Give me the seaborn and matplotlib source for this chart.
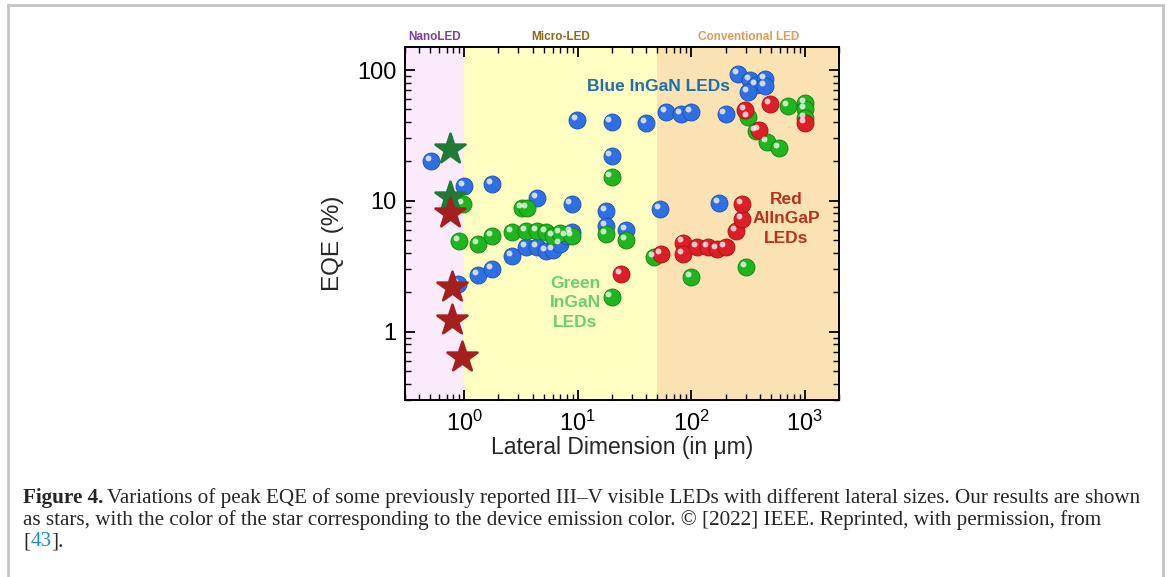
import matplotlib
matplotlib.use("Agg")
import matplotlib.pyplot as plt
import matplotlib.transforms as mtransforms
from matplotlib.lines import Line2D
from matplotlib.ticker import FixedLocator, LogLocator, NullFormatter
import numpy as np
import pandas as pd
import seaborn as sns

# lateral dimension (um) and peak EQE (%)
blue_x = [0.51, 1.0, 1.75, 4.4, 8.8, 17.6, 17.6, 26.4, 52.6, 174,
          0.88, 1.33, 1.77, 2.65, 3.5, 4.4, 5.2, 6.1, 7.0, 7.95, 8.8, 19.8,
          9.9, 19.8, 39.5, 59.4, 80.6, 100, 200, 257, 327, 370, 315, 444, 444]
blue_y = [20, 13, 13.5, 10.5, 9.5, 8.4, 6.4, 6.0, 8.7, 9.7,
          2.3, 2.7, 3.0, 3.8, 4.45, 4.45, 4.15, 4.2, 4.7, 5.4, 5.8, 22,
          41.5, 40, 39.4, 47.8, 46, 47.8, 46, 93, 84, 77, 68, 85, 75.5]

green_x = [0.98, 0.89, 1.33, 1.77, 2.65, 3.2, 3.6, 3.5, 4.4, 5.2, 6.1, 7.0, 8.9,
           17.6, 26.4, 19.8, 19.8, 46.6, 100, 302,
           315, 370, 463, 590, 710, 1000, 1000, 1000]
green_y = [9.5, 4.9, 4.7, 5.4, 5.8, 8.85, 8.85, 5.9, 5.9, 5.8, 5.4, 5.7, 5.4,
           5.6, 5.0, 15.3, 1.85, 3.7, 2.6, 3.13,
           43.8, 34, 28.2, 25.4, 53, 56, 50, 43]

red_x = [23.8, 53.7, 84, 84, 112, 140, 168, 200, 246, 279, 279,
         296, 492, 393, 1000]
red_y = [2.77, 3.94, 4.8, 3.94, 4.45, 4.45, 4.3, 4.45, 5.9, 7.2, 9.5,
         49.5, 55, 34.8, 39.4]

# our results (stars)
star_green_x = [0.75, 0.75]
star_green_y = [25, 10.7]
star_red_x = [0.75, 0.78, 0.78, 0.96]
star_red_y = [8.0, 2.2, 1.23, 0.645]

regions = ["NanoLED", "Micro-LED", "Conventional LED"]
region_edges = [0.3, 1, 50, 2000]
region_fill = ["#fbeafa", "#ffffc2", "#fbe2b2"]
region_text = ["#7a3fa0", "#8b6a1a", "#e39a52"]

caption_lines = [
    "Variations of peak EQE of some previously reported III\u2013V visible LEDs with different lateral sizes. Our results are shown",
    "as stars, with the color of the star corresponding to the device emission color. \u00a9 [2022] IEEE. Reprinted, with permission, from",
]

sns.set_style("ticks")
plt.rcParams['font.family'] = ['Liberation Sans', 'DejaVu Sans']
plt.rcParams['mathtext.fontset'] = 'custom'
plt.rcParams['mathtext.rm'] = 'Liberation Sans'
plt.rcParams['mathtext.it'] = 'Liberation Sans:italic'
plt.rcParams['mathtext.bf'] = 'Liberation Sans:bold'

fig = plt.figure(figsize=(11.67, 5.77), dpi=100)
ax = fig.add_axes([0.347, 0.3068, 0.372, 0.6117])

# background bands
for i in range(3):
    ax.axvspan(region_edges[i], region_edges[i + 1], color=region_fill[i], lw=0, zorder=0)
    xc = np.sqrt(region_edges[i] * region_edges[i + 1])
    ax.text(xc, 1.012, regions[i], transform=ax.get_xaxis_transform(),
            ha="center", va="bottom", fontsize=8.5, fontweight="bold", color=region_text[i])

df = pd.concat([
    pd.DataFrame({"x": blue_x, "y": blue_y, "kind": "blue"}),
    pd.DataFrame({"x": green_x, "y": green_y, "kind": "green"}),
    pd.DataFrame({"x": red_x, "y": red_y, "kind": "red"}),
], ignore_index=True)
pal = {"blue": "#2f6fe3", "green": "#1fb51f", "red": "#dc1f26"}
edge = {"blue": "#1d4fae", "green": "#138013", "red": "#a01318"}

for k in ["blue", "green", "red"]:
    sub = df[df.kind == k]
    sns.scatterplot(data=sub, x="x", y="y", color=pal[k], s=150, edgecolor=edge[k],
                    linewidth=0.6, ax=ax, legend=False, zorder=3)
    hl = mtransforms.offset_copy(ax.transData, fig=fig, x=-2.2, y=2.2, units="points")
    ax.scatter(sub.x, sub.y, s=18, color="white", alpha=0.75, lw=0, transform=hl, zorder=4)

sns.scatterplot(x=star_green_x, y=star_green_y, marker="*", s=520, color="#1f7a33",
                edgecolor="#1f7a33", ax=ax, legend=False, zorder=5)
sns.scatterplot(x=star_red_x, y=star_red_y, marker="*", s=520, color="#a3201f",
                edgecolor="#a3201f", ax=ax, legend=False, zorder=5)

ax.set_xscale("log")
ax.set_yscale("log")
ax.set_xlim(0.3, 2000)
ax.set_ylim(0.3, 150)

ax.yaxis.set_major_locator(FixedLocator([1, 10, 100]))
ax.set_yticklabels(["1", "10", "100"])
ax.yaxis.set_minor_locator(LogLocator(base=10, subs=np.arange(2, 10)))
ax.yaxis.set_minor_formatter(NullFormatter())
ax.xaxis.set_minor_locator(LogLocator(base=10, subs=np.arange(2, 10)))
ax.xaxis.set_minor_formatter(NullFormatter())

ax.tick_params(which="both", direction="in", top=True, right=True, colors="black",
               labelsize=17)
ax.tick_params(which="major", length=7, width=1.3)
ax.tick_params(which="minor", length=4, width=1.0)
ax.tick_params(axis="x", which="major", pad=8)
ax.tick_params(axis="y", which="major", pad=6)
for s in ax.spines.values():
    s.set_linewidth(1.4)
    s.set_color("black")

ax.set_xlabel("Lateral Dimension (in \u03bcm)", fontsize=16.5, labelpad=0)
ax.set_ylabel("EQE (%)", fontsize=17.5, labelpad=9)
ax.yaxis.set_label_coords(-0.14, 0.445)

ax.text(0.583, 0.888, "Blue InGaN LEDs", transform=ax.transAxes, ha="center", va="center",
        fontsize=12.5, fontweight="bold", color="#1d6fae")
ax.text(0.392, 0.275, "Green\nInGaN\nLEDs", transform=ax.transAxes, ha="center", va="center",
        fontsize=12.5, fontweight="bold", color="#6ccf6c", linespacing=1.38)
ax.text(0.878, 0.513, "Red\nAlInGaP\nLEDs", transform=ax.transAxes, ha="center", va="center",
        fontsize=12.5, fontweight="bold", color="#b8321c", linespacing=1.38)

# caption
serif = ["Liberation Serif", "DejaVu Serif"]
cs = 15.2
t = fig.text(23 / 1167, 1 - 498 / 577, "Figure 4.", family=serif, fontsize=cs,
             fontweight="bold", va="center", ha="left")
fig.canvas.draw()
bb = t.get_window_extent()
fig.text((bb.x1 + 4) / 1167, 1 - 498 / 577, caption_lines[0], family=serif,
         fontsize=cs, va="center", ha="left")
fig.text(23 / 1167, 1 - 520 / 577, caption_lines[1], family=serif, fontsize=cs,
         va="center", ha="left")
t2 = fig.text(23 / 1167, 1 - 542 / 577, "[", family=serif, fontsize=cs, va="center", ha="left")
fig.canvas.draw()
b2 = t2.get_window_extent()
t3 = fig.text(b2.x1 / 1167, 1 - 542 / 577, "43", family=serif, fontsize=cs,
              va="center", ha="left", color="#1a8ac8")
fig.canvas.draw()
b3 = t3.get_window_extent()
fig.text(b3.x1 / 1167, 1 - 542 / 577, "].", family=serif, fontsize=cs, va="center", ha="left")

# page frame
frame = dict(color="#c4c4c4", lw=2, transform=fig.transFigure)
fig.add_artist(Line2D([8 / 1167, 8 / 1167], [0, 1 - 5 / 577], **frame))
fig.add_artist(Line2D([8 / 1167, 1163 / 1167], [1 - 5 / 577, 1 - 5 / 577], **frame))
fig.add_artist(Line2D([1163 / 1167, 1163 / 1167], [0, 1 - 5 / 577], **frame))

fig.savefig("out.png", dpi=100)
